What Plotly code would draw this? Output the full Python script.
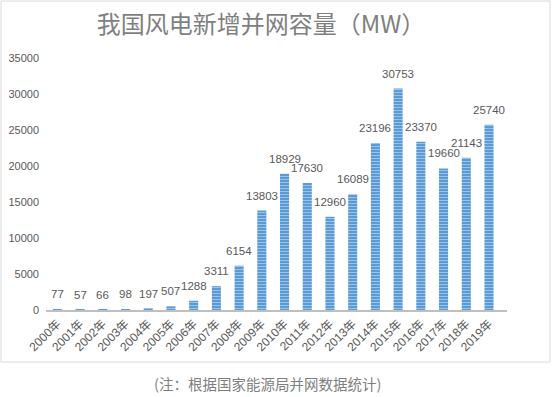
import plotly.graph_objects as go

years = [f"{y}年" for y in range(2000, 2020)]
values = [77, 57, 66, 98, 197, 507, 1288, 3311, 6154, 13803,
          18929, 17630, 12960, 16089, 23196, 30753, 23370, 19660, 21143, 25740]
y_ticks = [0, 5000, 10000, 15000, 20000, 25000, 30000, 35000]

font_fam = "Liberation Sans, Noto Sans CJK SC, sans-serif"

fig = go.Figure(go.Bar(
    x=years, y=values,
    hoverinfo="skip",
    marker=dict(
        color="#5B9BD5",
        line=dict(width=0),
        pattern=dict(shape="-", fillmode="overlay", fgcolor="#DDEBF7", size=3, solidity=0.35),
    ),
))

label_annotations = [
    dict(x=yr, y=v, xref="x", yref="y", text=str(v), showarrow=False,
         xanchor="center", yanchor="middle", yshift=15,
         font=dict(family=font_fam, size=11.5, color="#595959"))
    for yr, v in zip(years, values)
]

fig.update_layout(
    width=553, height=397,
    margin=dict(l=46, r=46, t=58, b=87),
    paper_bgcolor="white", plot_bgcolor="white",
    bargap=0.6,
    showlegend=False,
    title=dict(text="我国风电新增并网容量（MW）", x=(261 - 46) / 461, xref="paper", xanchor="center",
               y=1 - 25 / 397, yref="container", yanchor="middle",
               font=dict(family="Noto Sans CJK SC", size=24, color="#7F7F7F")),
    xaxis=dict(showline=True, linecolor="#BFBFBF", linewidth=2, ticks="", tickangle=-45,
               tickfont=dict(family=font_fam, size=12, color="#595959"), showgrid=False,
               automargin=False),
    yaxis=dict(range=[0, 35000], tickvals=y_ticks, ticktext=[str(t) for t in y_ticks],
               showgrid=False, zeroline=False, showline=False, ticks="",
               ticklabelstandoff=6,
               tickfont=dict(family=font_fam, size=11, color="#595959"), automargin=False),
    shapes=[dict(type="rect", xref="paper", yref="paper",
                 x0=(1 - 46) / 461, x1=(550 - 46) / 461,
                 y0=(310 - 362) / 252, y1=(310 - 1) / 252,
                 line=dict(color="#D9D9D9", width=1), fillcolor="rgba(0,0,0,0)", layer="below")],
    annotations=label_annotations + [
        dict(text="(注：根据国家能源局并网数据统计)", xref="paper", yref="paper",
             x=(267 - 46) / 461, y=(310 - 383) / 252, xanchor="center", yanchor="middle",
             showarrow=False,
             font=dict(family="Noto Sans CJK SC", size=14.5, color="#7F7F7F"))],
)

fig.write_html("out.html", config={"displayModeBar": False},
               post_script="document.body.style.margin='0px';")
